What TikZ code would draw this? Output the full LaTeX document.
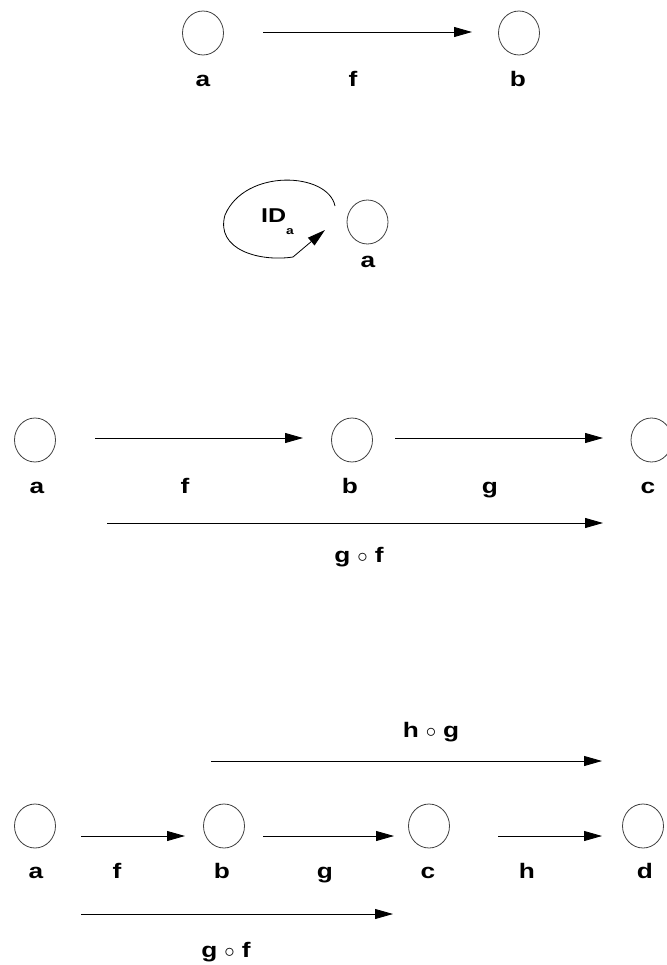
\documentclass[tikz,border=0pt]{standalone}
\usepackage{fontspec}
\setmainfont{Liberation Sans}
\newfontfamily\lblfont[FakeStretch=1.25]{Liberation Sans}
\usetikzlibrary{shapes.geometric,arrows.meta}

\begin{document}
\begin{tikzpicture}[x=1pt,y=-1pt,
  obj/.style={draw=black!75,line width=0.8pt,ellipse,minimum width=41pt,minimum height=44pt,inner sep=0pt,outer sep=0pt},
  lbl/.style={font=\fontsize{21}{25}\lblfont\bfseries,inner sep=0pt,anchor=base},
  arr/.style={line width=0.8pt,-{Triangle[length=18pt,width=10pt]}}]

\useasboundingbox (0,0) rectangle (666,965);

%definitions

\def\comp#1#2{#1\hspace{7pt}$\circ$\hspace{7pt}#2} % composition label

%
%FIG1
%

\node[obj] (a1) at (203,33) {};
\node[obj] (b1) at (519,33) {};
\node[lbl] (la1) at (203,87) {a};
\node[lbl] (lf1) at (353,87) {f};
\node[lbl] (lb1) at (518,87) {b};
\draw[arr,shorten <=39.5pt,shorten >=26.5pt] ([yshift=1pt]a1.east) -- ([yshift=1pt]b1.west); %f

%
%FIG2
%

\node[obj] (a2) at (367.5,222) {};
\node[lbl] (la2) at (368,268) {a};
\node[lbl,anchor=base west,font=\fontsize{20}{24}\lblfont\bfseries] (id) at (261,223) {ID\raisebox{-12pt}{\fontsize{11}{13}\selectfont a}};
\coordinate (ids) at (335,206);
\coordinate (idt) at (325,230);
\draw[arr] (ids) .. controls (328,172) and (245,168) .. (225,215) .. controls (215,250) and (260,262) .. (293,257) -- (idt); %identity loop

%
%FIG3
%

\node[obj] (a3) at (35,440) {};
\node[obj] (b3) at (352,440) {};
\node[obj] (c3) at (651.5,440) {};
\node[lbl] (la3) at (37,493) {a};
\node[lbl] (lf3) at (185,493) {f};
\node[lbl] (lb3) at (350,493) {b};
\node[lbl] (lg3) at (490,493) {g};
\node[lbl] (lc3) at (648,493) {c};
\node[lbl] (lgf3) at (359,562) {\comp{g}{f}};
\draw[arr,shorten <=39.5pt,shorten >=28.5pt] ([yshift=2pt]a3.east) -- ([yshift=2pt]b3.west); %f
\draw[arr,shorten <=22.5pt,shorten >=28pt] ([yshift=2pt]b3.east) -- ([yshift=2pt]c3.west); %g
\draw[arr,shorten <=51.5pt,shorten >=28pt] ([yshift=-83pt]a3.east) -- ([yshift=-83pt]c3.west); %g o f

%
%FIG4
%

\node[obj] (a4) at (35,826) {};
\node[obj] (b4) at (224,826) {};
\node[obj] (c4) at (429,826) {};
\node[obj] (d4) at (643,826) {};
\node[lbl] (la4) at (36,878) {a};
\node[lbl] (lf4) at (117,878) {f};
\node[lbl] (lb4) at (222,878) {b};
\node[lbl] (lg4) at (325,878) {g};
\node[lbl] (lc4) at (428,878) {c};
\node[lbl] (lh4) at (527,878) {h};
\node[lbl] (ld4) at (645,878) {d};
\node[lbl] (lhg4) at (431,737) {\comp{h}{g}};
\node[lbl] (lgf4) at (226,957) {\comp{g}{f}};
\draw[arr,shorten <=25.5pt,shorten >=18.5pt] ([yshift=-10pt]a4.east) -- ([yshift=-10pt]b4.west); %f
\draw[arr,shorten <=18.5pt,shorten >=14.5pt] ([yshift=-10pt]b4.east) -- ([yshift=-10pt]c4.west); %g
\draw[arr,shorten <=48.5pt,shorten >=20.5pt] ([yshift=-10pt]c4.east) -- ([yshift=-10pt]d4.west); %h
\draw[arr,shorten <=7.5pt,shorten >=20.5pt] ([yshift=65pt]b4.west) -- ([yshift=65pt]d4.west); %h o g
\draw[arr,shorten <=25.5pt,shorten >=15.5pt] ([yshift=-88pt]a4.east) -- ([yshift=-88pt]c4.west); %g o f

\end{tikzpicture}
\end{document}
